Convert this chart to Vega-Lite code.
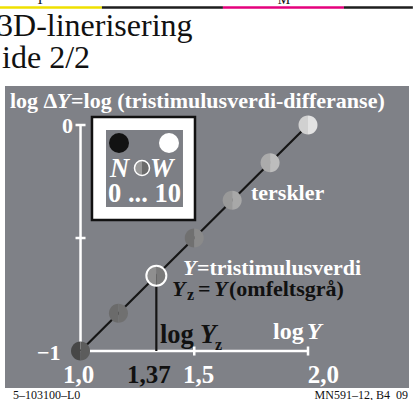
{
  "$schema": "https://vega.github.io/schema/vega-lite/v6.json",
  "width": 404,
  "height": 302,
  "autosize": {"type": "none"},
  "padding": {"left": 5, "top": 86, "right": 4, "bottom": 12},
  "background": "white",
  "config": {"view": {"fill": "#7f8187", "stroke": null}, "font": "Liberation Serif"},
  "datasets": {
    "labels": [
      {"t": "log Δ", "x": 0.690, "y": 0.0753, "ink": "white", "style": "upright", "role": "note"},
      {"t": "=log (tristimulusverdi-differanse)", "x": 0.9581, "y": 0.0753, "ink": "white", "style": "upright", "role": "note"},
      {"t": "Y", "x": 0.8966, "y": 0.0753, "ink": "white", "style": "italic", "role": "note"},
      {"t": "0", "x": 0.9186, "y": -0.0354, "ink": "white", "style": "upright", "role": "note"},
      {"t": "−1", "x": 0.8087, "y": -1.0398, "ink": "white", "style": "upright", "role": "note"},
      {"t": "1,0", "x": 0.923, "y": -1.1416, "ink": "white", "style": "upright", "role": "tick"},
      {"t": "1,5", "x": 1.4504, "y": -1.1416, "ink": "white", "style": "upright", "role": "tick"},
      {"t": "2,0", "x": 1.9988, "y": -1.1416, "ink": "white", "style": "upright", "role": "tick"},
      {"t": "1,37", "x": 1.2043, "y": -1.1416, "ink": "black", "style": "upright", "role": "tick"},
      {"t": "terskler", "x": 1.7493, "y": -0.3318, "ink": "white", "style": "upright", "role": "note"},
      {"t": "Y", "x": 1.4504, "y": -0.6637, "ink": "white", "style": "italic", "role": "note"},
      {"t": "=tristimulusverdi", "x": 1.512, "y": -0.6637, "ink": "white", "style": "upright", "role": "note"},
      {"t": "Y", "x": 1.4021, "y": -0.7566, "ink": "black", "style": "italic", "role": "note"},
      {"t": "z", "x": 1.468, "y": -0.7743, "ink": "black", "style": "upright", "role": "sub"},
      {"t": "=", "x": 1.5164, "y": -0.7566, "ink": "black", "style": "upright", "role": "note"},
      {"t": "Y", "x": 1.5867, "y": -0.7566, "ink": "black", "style": "italic", "role": "note"},
      {"t": "(omfeltsgrå)", "x": 1.6526, "y": -0.7566, "ink": "black", "style": "upright", "role": "note"},
      {"t": "log", "x": 1.3493, "y": -0.9646, "ink": "black", "style": "upright", "role": "label"},
      {"t": "Y", "x": 1.525, "y": -0.9646, "ink": "black", "style": "italic", "role": "label"},
      {"t": "z", "x": 1.591, "y": -0.9956, "ink": "black", "style": "upright", "role": "sub"},
      {"t": "log", "x": 1.846, "y": -0.9469, "ink": "white", "style": "upright", "role": "axis"},
      {"t": "Y", "x": 1.9955, "y": -0.9469, "ink": "white", "style": "italic", "role": "axis"},
      {"t": "N", "x": 1.1295, "y": -0.2301, "ink": "white", "style": "italic", "role": "label"},
      {"t": "W", "x": 1.3054, "y": -0.2301, "ink": "white", "style": "italic", "role": "label"},
      {"t": "0 ... 10", "x": 1.1208, "y": -0.3407, "ink": "white", "style": "upright", "role": "label"}
    ]
  },
  "encoding": {
    "x": {"field": "x", "type": "quantitative", "scale": {"domain": [0.668, 2.444], "nice": false, "zero": false}, "axis": null},
    "y": {"field": "y", "type": "quantitative", "scale": {"domain": [-1.1637, 0.1726], "nice": false, "zero": false}, "axis": null}
  },
  "layer": [
    {
      "data": {"values": [
        {"ink": "Y", "x": 0.646, "x2": 1.094, "y": 0.52},
        {"ink": "K", "x": 1.094, "x2": 1.626, "y": 0.52},
        {"ink": "M", "x": 1.626, "x2": 2.158, "y": 0.52},
        {"ink": "K", "x": 2.158, "x2": 2.461, "y": 0.52}
      ]},
      "mark": {"type": "rule", "strokeWidth": 2.5},
      "encoding": {
        "x2": {"field": "x2"},
        "stroke": {"field": "ink", "type": "nominal", "scale": {"domain": ["Y", "K", "M"], "range": ["#efe000", "#1e1e1e", "#e4007c"]}, "legend": null}
      }
    },
    {
      "data": {"values": [
        {"t": "Y", "x": 0.822, "y": 0.5354},
        {"t": "M", "x": 1.894, "y": 0.5354}
      ]},
      "mark": {"type": "text", "fontSize": 14, "align": "center", "baseline": "alphabetic", "color": "#111"},
      "encoding": {"text": {"field": "t"}}
    },
    {
      "data": {"values": [
        {"t": "3D-linerisering", "x": 0.633, "y": 0.394},
        {"t": "ide 2/2", "x": 0.655, "y": 0.252}
      ]},
      "mark": {"type": "text", "fontSize": 32, "align": "left", "baseline": "alphabetic", "color": "#111"},
      "encoding": {"text": {"field": "t"}}
    },
    {
      "data": {"values": [
        {"t": "5–103100–L0", "x": 0.7032, "y": -1.2124}
      ]},
      "mark": {"type": "text", "fontSize": 12, "align": "left", "baseline": "alphabetic", "color": "#111"},
      "encoding": {"text": {"field": "t"}}
    },
    {
      "data": {"values": [
        {"t": "MN591–12, B4_09", "x": 2.4394, "y": -1.2124}
      ]},
      "mark": {"type": "text", "fontSize": 12, "align": "right", "baseline": "alphabetic", "color": "#111"},
      "encoding": {"text": {"field": "t"}}
    },
    {
      "data": {"values": [
        {"x": 1.0504, "x2": 1.5032, "y": 0.0354, "y2": -0.4203}
      ]},
      "mark": {"type": "rect", "fill": "#ffffff", "stroke": "#111111", "strokeWidth": 2.5},
      "encoding": {"x2": {"field": "x2"}, "y2": {"field": "y2"}}
    },
    {
      "data": {"values": [
        {"x": 1.112, "x2": 1.4504, "y": -0.0221, "y2": -0.3628}
      ]},
      "mark": {"type": "rect", "fill": "#7d7f85"},
      "encoding": {"x2": {"field": "x2"}, "y2": {"field": "y2"}}
    },
    {
      "data": {"values": [
        {"x": 1, "x2": 1, "y": 0, "y2": -1},
        {"x": 0.978, "x2": 1.022, "y": 0, "y2": 0},
        {"x": 0.978, "x2": 1.022, "y": -0.5, "y2": -0.5},
        {"x": 1, "x2": 2, "y": -1, "y2": -1},
        {"x": 1.5, "x2": 1.5, "y": -0.98, "y2": -1.02},
        {"x": 2, "x2": 2, "y": -0.98, "y2": -1.02}
      ]},
      "mark": {"type": "rule", "stroke": "#ffffff", "strokeWidth": 2.5},
      "encoding": {"x2": {"field": "x2"}, "y2": {"field": "y2"}}
    },
    {
      "data": {"values": [
        {"x": 1, "x2": 2, "y": -1, "y2": 0},
        {"x": 1.3333, "x2": 1.3333, "y": -1, "y2": -0.6667}
      ]},
      "mark": {"type": "rule", "stroke": "#151515", "strokeWidth": 2.2},
      "encoding": {"x2": {"field": "x2"}, "y2": {"field": "y2"}}
    },
    {
      "data": {"values": [
        {"x": 1.0, "y": -1.0, "left": 2.8, "right": 3.6},
        {"x": 1.1667, "y": -0.8333, "left": 4.2, "right": 4.4},
        {"x": 1.3333, "y": -0.6667, "left": 5.6, "right": 4.8},
        {"x": 1.5, "y": -0.5, "left": 4.4, "right": 5.4},
        {"x": 1.6667, "y": -0.3333, "left": 6.0, "right": 6.6},
        {"x": 1.8333, "y": -0.1667, "left": 6.7, "right": 7.4},
        {"x": 2.0, "y": 0.0, "left": 8.2, "right": 8.9}
      ]},
      "transform": [{"fold": ["left", "right"], "as": ["half", "grade"]}],
      "mark": {"type": "point", "filled": true, "size": 361, "opacity": 1, "strokeWidth": 0},
      "encoding": {
        "shape": {"field": "half", "type": "nominal", "scale": {"domain": ["left", "right"], "range": ["M0,-1A1,1,0,0,0,0,1Z", "M0,-1A1,1,0,0,1,0,1Z"]}, "legend": null},
        "fill": {"field": "grade", "type": "quantitative", "scale": {"domain": [0, 10], "range": ["#000000", "#ffffff"], "interpolate": "rgb"}, "legend": null}
      }
    },
    {
      "data": {"values": [{"x": 1.3333, "y": -0.6667}]},
      "mark": {"type": "point", "shape": "circle", "filled": false, "size": 400, "stroke": "#ffffff", "strokeWidth": 2, "opacity": 1}
    },
    {
      "data": {"values": [
        {"x": 1.1691, "y": -0.0796, "grade": 0.7},
        {"x": 1.3889, "y": -0.0796, "grade": 10}
      ]},
      "mark": {"type": "point", "shape": "circle", "filled": true, "size": 400, "opacity": 1, "strokeWidth": 0},
      "encoding": {
        "fill": {"field": "grade", "type": "quantitative", "legend": null}
      }
    },
    {
      "data": {"values": [
        {"x": 1.2702, "y": -0.1902, "left": 6.0, "right": 4.2}
      ]},
      "transform": [{"fold": ["left", "right"], "as": ["half", "grade"]}],
      "mark": {"type": "point", "filled": true, "size": 196, "opacity": 1, "strokeWidth": 0},
      "encoding": {
        "shape": {"field": "half", "type": "nominal", "legend": null},
        "fill": {"field": "grade", "type": "quantitative", "legend": null}
      }
    },
    {
      "data": {"values": [{"x": 1.2702, "y": -0.1902}]},
      "mark": {"type": "point", "shape": "circle", "filled": false, "size": 225, "stroke": "#ffffff", "strokeWidth": 1.5, "opacity": 1}
    },
    {
      "data": {"name": "labels"},
      "transform": [{"filter": "datum.ink === 'white' && datum.style === 'upright' && datum.role === 'note'"}],
      "mark": {"type": "text", "fontSize": 22, "fontWeight": "bold", "align": "left", "baseline": "alphabetic", "color": "#ffffff"},
      "encoding": {"text": {"field": "t"}}
    },
    {
      "data": {"name": "labels"},
      "transform": [{"filter": "datum.ink === 'white' && datum.style === 'upright' && datum.role === 'axis'"}],
      "mark": {"type": "text", "fontSize": 24, "fontWeight": "bold", "align": "left", "baseline": "alphabetic", "color": "#ffffff"},
      "encoding": {"text": {"field": "t"}}
    },
    {
      "data": {"name": "labels"},
      "transform": [{"filter": "datum.ink === 'white' && datum.style === 'upright' && datum.role === 'tick'"}],
      "mark": {"type": "text", "fontSize": 25, "fontWeight": "bold", "align": "left", "baseline": "alphabetic", "color": "#ffffff"},
      "encoding": {"text": {"field": "t"}}
    },
    {
      "data": {"name": "labels"},
      "transform": [{"filter": "datum.ink === 'white' && datum.style === 'upright' && datum.role === 'label'"}],
      "mark": {"type": "text", "fontSize": 26.5, "fontWeight": "bold", "align": "left", "baseline": "alphabetic", "color": "#ffffff"},
      "encoding": {"text": {"field": "t"}}
    },
    {
      "data": {"name": "labels"},
      "transform": [{"filter": "datum.ink === 'white' && datum.style === 'italic' && datum.role === 'note'"}],
      "mark": {"type": "text", "fontSize": 22, "fontWeight": "bold", "fontStyle": "italic", "align": "left", "baseline": "alphabetic", "color": "#ffffff"},
      "encoding": {"text": {"field": "t"}}
    },
    {
      "data": {"name": "labels"},
      "transform": [{"filter": "datum.ink === 'white' && datum.style === 'italic' && datum.role === 'axis'"}],
      "mark": {"type": "text", "fontSize": 24, "fontWeight": "bold", "fontStyle": "italic", "align": "left", "baseline": "alphabetic", "color": "#ffffff"},
      "encoding": {"text": {"field": "t"}}
    },
    {
      "data": {"name": "labels"},
      "transform": [{"filter": "datum.ink === 'white' && datum.style === 'italic' && datum.role === 'label'"}],
      "mark": {"type": "text", "fontSize": 26.5, "fontWeight": "bold", "fontStyle": "italic", "align": "left", "baseline": "alphabetic", "color": "#ffffff"},
      "encoding": {"text": {"field": "t"}}
    },
    {
      "data": {"name": "labels"},
      "transform": [{"filter": "datum.ink === 'black' && datum.style === 'upright' && datum.role === 'note'"}],
      "mark": {"type": "text", "fontSize": 22, "fontWeight": "bold", "align": "left", "baseline": "alphabetic", "color": "#111111"},
      "encoding": {"text": {"field": "t"}}
    },
    {
      "data": {"name": "labels"},
      "transform": [{"filter": "datum.ink === 'black' && datum.style === 'upright' && datum.role === 'tick'"}],
      "mark": {"type": "text", "fontSize": 25, "fontWeight": "bold", "align": "left", "baseline": "alphabetic", "color": "#111111"},
      "encoding": {"text": {"field": "t"}}
    },
    {
      "data": {"name": "labels"},
      "transform": [{"filter": "datum.ink === 'black' && datum.style === 'upright' && datum.role === 'label'"}],
      "mark": {"type": "text", "fontSize": 26.5, "fontWeight": "bold", "align": "left", "baseline": "alphabetic", "color": "#111111"},
      "encoding": {"text": {"field": "t"}}
    },
    {
      "data": {"name": "labels"},
      "transform": [{"filter": "datum.ink === 'black' && datum.style === 'upright' && datum.role === 'sub'"}],
      "mark": {"type": "text", "fontSize": 16, "fontWeight": "bold", "align": "left", "baseline": "alphabetic", "color": "#111111"},
      "encoding": {"text": {"field": "t"}}
    },
    {
      "data": {"name": "labels"},
      "transform": [{"filter": "datum.ink === 'black' && datum.style === 'italic' && datum.role === 'note'"}],
      "mark": {"type": "text", "fontSize": 22, "fontWeight": "bold", "fontStyle": "italic", "align": "left", "baseline": "alphabetic", "color": "#111111"},
      "encoding": {"text": {"field": "t"}}
    },
    {
      "data": {"name": "labels"},
      "transform": [{"filter": "datum.ink === 'black' && datum.style === 'italic' && datum.role === 'label'"}],
      "mark": {"type": "text", "fontSize": 26.5, "fontWeight": "bold", "fontStyle": "italic", "align": "left", "baseline": "alphabetic", "color": "#111111"},
      "encoding": {"text": {"field": "t"}}
    }
  ]
}
